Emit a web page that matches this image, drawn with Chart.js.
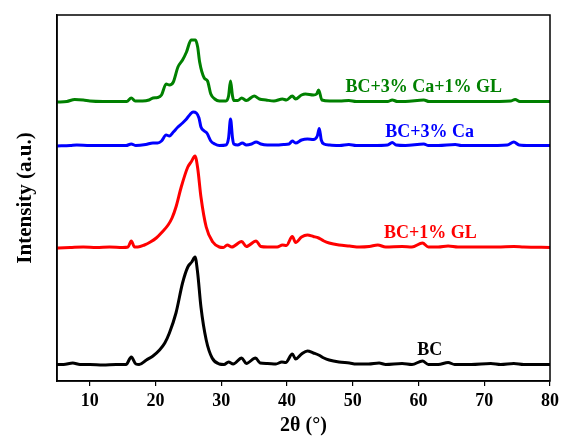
<!DOCTYPE html>
<html>
<head>
<meta charset="utf-8">
<script src="https://cdn.jsdelivr.net/npm/chart.js@4.4.1/dist/chart.umd.min.js"></script>
<style>
  html, body { margin: 0; padding: 0; background: #fff; }
  #wrap { width: 564px; height: 436px; }
</style>
</head>
<body>
<div id="wrap"><canvas id="xrd"></canvas></div>
<script>
// sample names, bottom to top
const seriesNames = ["BC", "BC+1% GL", "BC+3% Ca", "BC+3% Ca+1% GL"];
const seriesColors = ["#000000", "#ff0000", "#0000ff", "#008000"];
// vertical shift of each pattern (a.u.)
const offsets = [16, 133, 235, 279];
const xTicks = [10, 20, 30, 40, 50, 60, 70, 80];

// BC
const bcAngle = [5, 6, 7.4, 8.5, 10, 12, 14, 15.5, 16.3, 17, 17.5, 18.6, 19.6, 20.6, 21.4, 22.1, 23.1, 24.1, 24.9, 25.5, 26.0, 26.4, 26.9, 27.7, 28.6, 29.7, 30.4, 31.1, 31.8, 33.1, 33.8, 35.2, 35.9, 37, 38.3, 39.2, 39.8, 40.8, 41.3, 42.2, 43.1, 44.0, 44.8, 45.6, 46.4, 47.9, 49.5, 50.5, 52.4, 54, 55, 57.5, 59, 60.6, 61.5, 63, 64.5, 65.5, 68, 71, 72.5, 74.5, 76, 78, 80];
const bcInt = [0.5, 0.5, 2, 0.5, 0.5, 0, 0.5, 0.5, 8, 1, 0.5, 5, 9, 15, 22, 32, 52, 82, 98, 103, 108, 92, 58, 25, 7, 1, 0.5, 3, 1, 7, 1.5, 7, 2, 1.5, 1, 3, 2.5, 11, 6, 11, 14, 12, 10, 7, 5, 3, 2, 1, 1, 2, 0.5, 1.5, 0.5, 4, 0.5, 0.5, 2.5, 0.5, 0.5, 1.5, 0.5, 1.5, 0.5, 0.5, 0.5];

// BC+1% GL
const glAngle = [5, 7, 9, 11, 13, 15, 15.8, 16.3, 16.8, 17.3, 18.3, 19.2, 20.1, 21, 21.9, 22.5, 23.1, 23.9, 24.9, 25.4, 26.0, 26.4, 26.9, 27.7, 28.7, 29.7, 30.3, 30.9, 31.6, 33.1, 33.8, 35.3, 36, 37, 38.5, 39.3, 39.9, 40.8, 41.3, 42.2, 43.1, 44.0, 44.8, 45.6, 46.4, 47.9, 49.5, 51, 52.5, 53.8, 55, 57.5, 59, 60.6, 61.5, 63, 64.5, 66, 70, 72, 74.5, 76, 80];
const glInt = [0, 0.5, 1, 0.5, 1, 0.5, 1, 7, 1, 1, 3, 6, 10, 16, 23, 30, 41, 61, 81, 86, 92, 80, 51, 21, 6, 1, 0.5, 3, 1, 6.5, 1.5, 7, 1.5, 1, 1, 3, 2.5, 11.5, 5.5, 11, 13, 11.5, 10, 7, 5, 3, 2, 1, 1.5, 3, 1, 1.5, 1, 5, 1, 1, 2, 1, 1, 1, 1.5, 1, 0.5];

// BC+3% Ca
const caAngle = [5, 7, 8, 10, 12, 14, 15.5, 16.3, 17, 18.5, 19.6, 20.3, 20.9, 21.6, 22.1, 22.7, 23.4, 24.1, 24.7, 25.3, 25.7, 26.2, 26.6, 26.9, 27.4, 27.8, 28.4, 29, 29.7, 30.7, 31.1, 31.4, 31.7, 31.9, 32.5, 33.2, 33.8, 34.6, 35.3, 36, 37, 38.5, 39.5, 40.3, 40.8, 41.3, 42.2, 43.1, 44.0, 44.6, 44.9, 45.2, 45.6, 46.5, 48, 49.4, 50.5, 53, 55.3, 56, 56.6, 58, 60.8, 61.5, 63, 65.6, 66.5, 70, 73.5, 74.5, 75.3, 77, 80];
const caInt = [0, 0.5, 1, 0.5, 0.5, 0.5, 0.5, 2, 0.5, 1.5, 3, 3, 5, 11, 10, 14, 19, 23, 27, 32, 34, 33, 28, 19, 15, 13, 5, 2, 0.5, 1, 8, 27, 8, 2, 1, 3, 1, 2, 4, 2, 1, 1, 1.5, 2, 5, 3, 6, 7, 6.5, 10, 17.5, 6, 2, 1, 0.5, 1.5, 0.5, 0.5, 1, 3.5, 1, 0.5, 2, 0.5, 0.5, 1.5, 0.5, 0.5, 1, 4, 1, 0.5, 0.5];

// BC+3% Ca+1% GL
const caglAngle = [5, 6.5, 7.7, 9, 10, 12, 14, 15.6, 16.3, 16.9, 18, 19, 19.6, 20.3, 20.9, 21.6, 22.1, 22.7, 23.4, 24.1, 24.7, 25.4, 26.06, 26.4, 26.7, 27.4, 27.9, 28.4, 29, 29.7, 30.7, 31.1, 31.4, 31.7, 31.9, 32.5, 33.1, 33.8, 35.0, 35.8, 36.8, 38, 39.3, 39.9, 40.8, 41.3, 42.2, 42.8, 44.0, 44.5, 44.8, 45.3, 46.5, 48, 49.4, 50.5, 53, 55.3, 56, 56.8, 58, 60.8, 61.6, 65, 70, 74, 74.7, 75.4, 78, 80];
const caglInt = [0, 0.5, 2.5, 2, 1, 0.5, 0.5, 0.5, 4, 1, 1, 2, 4, 4.5, 7, 18, 17, 20, 35, 42, 50, 62, 62, 55, 40, 24, 21, 8, 3, 1, 1, 6, 21, 6, 1.5, 1.5, 4, 1.5, 6, 3, 2, 1, 3, 2, 6, 3, 7, 8, 7, 8, 12, 2, 1, 1, 1.5, 0.5, 0.5, 0.5, 2, 0.5, 0.5, 2, 0.5, 0.5, 0.5, 1, 2.5, 0.5, 0.5, 0.5];

const angles = [bcAngle, glAngle, caAngle, caglAngle];
const intensities = [bcInt, glInt, caInt, caglInt];

const datasets = seriesNames.map((name, i) => ({
  label: name,
  data: angles[i].map((a, j) => ({ x: a, y: intensities[i][j] + offsets[i] })),
  borderColor: seriesColors[i],
  borderWidth: 3,
  pointRadius: 0,
  fill: false,
  cubicInterpolationMode: "monotone",
}));

const serif = "'Liberation Serif', 'Times New Roman', serif";

// sample names written next to each pattern
const curveLabels = {
  id: "curveLabels",
  afterDatasetsDraw(chart, args, opts) {
    const { ctx, scales } = chart;
    ctx.save();
    ctx.font = "bold 18px " + serif;
    ctx.textAlign = "center";
    ctx.textBaseline = "middle";
    opts.items.forEach((it) => {
      ctx.fillStyle = seriesColors[it.series];
      ctx.fillText(seriesNames[it.series], scales.x.getPixelForValue(it.x), scales.y.getPixelForValue(it.y));
    });
    ctx.restore();
  },
};

// closed frame round the plot
const frame = {
  id: "frame",
  afterDraw(chart) {
    const { ctx, chartArea: a } = chart;
    ctx.save();
    ctx.strokeStyle = "#000";
    ctx.lineWidth = 1.5;
    ctx.strokeRect(a.left, a.top, a.right - a.left, a.bottom - a.top);
    ctx.restore();
  },
};

new Chart(document.getElementById("xrd"), {
  type: "line",
  data: { datasets },
  plugins: [curveLabels, frame],
  options: {
    responsive: true,
    maintainAspectRatio: false,
    animation: false,
    layout: { padding: { top: 15, right: 12, left: 0, bottom: 0 } },
    scales: {
      x: {
        type: "linear",
        min: 5,
        max: 80,
        afterBuildTicks: (s) => { s.ticks = xTicks.map((v) => ({ value: v })); },
        afterFit: (s) => { s.height = 55; },
        grid: { drawOnChartArea: false, drawTicks: true, tickLength: 5, color: "#000", lineWidth: 1.2 },
        border: { display: true, color: "#000", width: 1.5 },
        ticks: { color: "#000", padding: 5, maxRotation: 0, font: { family: serif, size: 18, weight: "bold" } },
        title: { display: true, text: "2θ (°)", color: "#000", padding: 0, font: { family: serif, size: 20, weight: "bold", lineHeight: 1 } },
      },
      y: {
        min: 0,
        max: 366,
        afterFit: (s) => { s.width = 57; },
        grid: { display: false },
        border: { display: true, color: "#000", width: 1.5 },
        ticks: { display: false },
        title: { display: true, text: "Intensity (a.u.)", color: "#000", padding: { top: 15, bottom: 0 }, font: { family: serif, size: 21, weight: "bold", lineHeight: 1 } },
      },
    },
    plugins: {
      legend: { display: false },
      tooltip: { enabled: false },
      curveLabels: {
        items: [
          { series: 3, x: 60.8, y: 294 },
          { series: 2, x: 61.7, y: 249 },
          { series: 1, x: 61.8, y: 148 },
          { series: 0, x: 61.7, y: 31 },
        ],
      },
    },
  },
});
</script>
</body>
</html>
